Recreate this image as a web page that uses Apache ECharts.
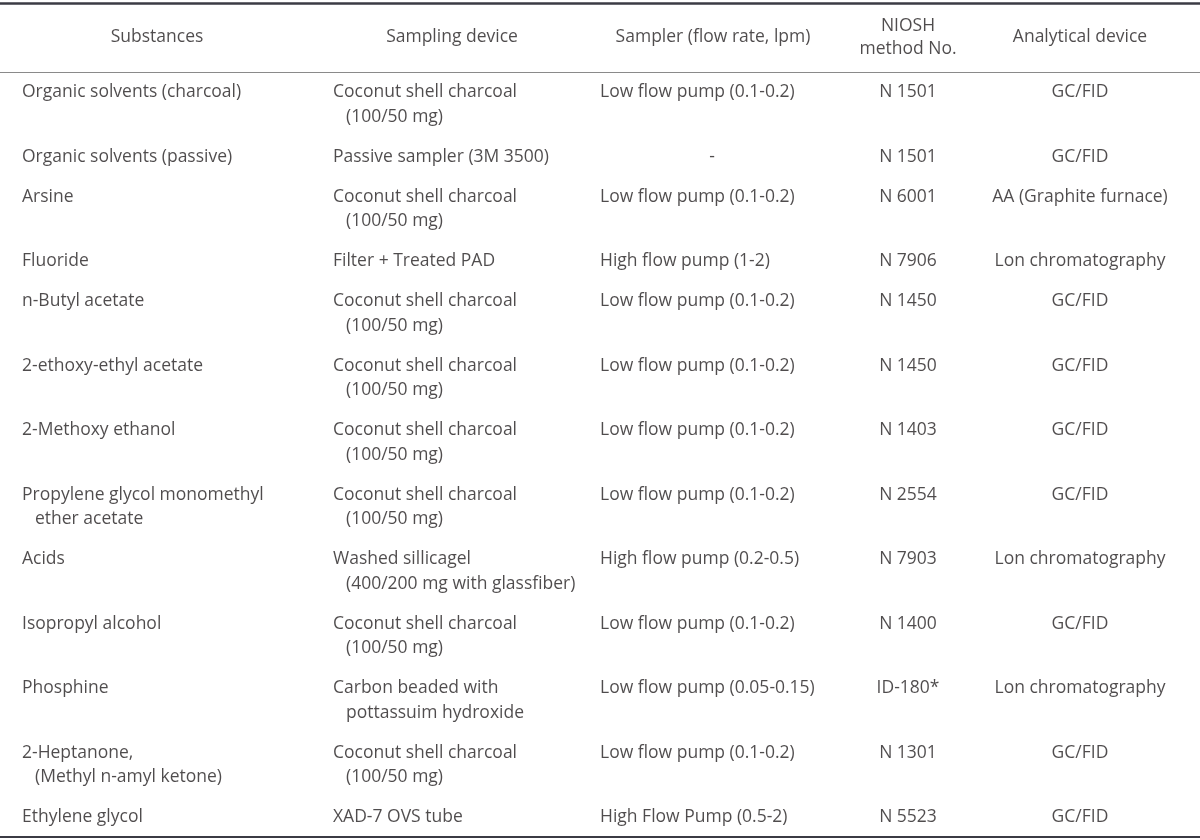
<!DOCTYPE html>
<html>
<head>
<meta charset="utf-8">
<script src="https://cdn.jsdelivr.net/npm/echarts@6/dist/echarts.min.js"></script>
<style>
html,body{margin:0;padding:0;background:#fff;}
#chart{width:1200px;height:840px;}
</style>
</head>
<body>
<div id="chart"></div>
<script>
// ---- table content ----
var headers = ["Substances", "Sampling device", "Sampler (flow rate, lpm)", "NIOSH\nmethod No.", "Analytical device"];
var substances = [
  "Organic solvents (charcoal)",
  "Organic solvents (passive)",
  "Arsine",
  "Fluoride",
  "n-Butyl acetate",
  "2-ethoxy-ethyl acetate",
  "2-Methoxy ethanol",
  "Propylene glycol monomethyl\nether acetate",
  "Acids",
  "Isopropyl alcohol",
  "Phosphine",
  "2-Heptanone,\n(Methyl n-amyl ketone)",
  "Ethylene glycol"
];
var samplingDevices = [
  "Coconut shell charcoal\n(100/50 mg)",
  "Passive sampler (3M 3500)",
  "Coconut shell charcoal\n(100/50 mg)",
  "Filter + Treated PAD",
  "Coconut shell charcoal\n(100/50 mg)",
  "Coconut shell charcoal\n(100/50 mg)",
  "Coconut shell charcoal\n(100/50 mg)",
  "Coconut shell charcoal\n(100/50 mg)",
  "Washed sillicagel\n(400/200 mg with glassfiber)",
  "Coconut shell charcoal\n(100/50 mg)",
  "Carbon beaded with\npottassuim hydroxide",
  "Coconut shell charcoal\n(100/50 mg)",
  "XAD-7 OVS tube"
];
var samplers = [
  "Low flow pump (0.1-0.2)",
  "-",
  "Low flow pump (0.1-0.2)",
  "High flow pump (1-2)",
  "Low flow pump (0.1-0.2)",
  "Low flow pump (0.1-0.2)",
  "Low flow pump (0.1-0.2)",
  "Low flow pump (0.1-0.2)",
  "High flow pump (0.2-0.5)",
  "Low flow pump (0.1-0.2)",
  "Low flow pump (0.05-0.15)",
  "Low flow pump (0.1-0.2)",
  "High Flow Pump (0.5-2)"
];
var nioshMethods = ["N 1501","N 1501","N 6001","N 7906","N 1450","N 1450","N 1403","N 2554","N 7903","N 1400","ID-180*","N 1301","N 5523"];
var analyticalDevices = [
  "GC/FID","GC/FID","AA (Graphite furnace)","Lon chromatography","GC/FID","GC/FID","GC/FID",
  "GC/FID","Lon chromatography","GC/FID","Lon chromatography","GC/FID","GC/FID"
];

// ---- layout (styles/positions, separate from content) ----
var FONT = "Open Sans";
var FS = 17.5;
var TEXT = "#231f20";
var colDefs = [
  {x: 22, align: "left", indent: 13, headerX: 157},
  {x: 333, align: "left", indent: 13, headerX: 452},
  {x: 600, align: "left", indent: 13, headerX: 713, centerX: 712},
  {x: 908, align: "center", indent: 0, headerX: 908},
  {x: 1080, align: "center", indent: 0, headerX: 1080}
];
var topLineY = 3, headerLineY = 72, bottomLineY = 837;
var firstRowY = 92.5, lineH = 24.5, rowPad = 40;

var columns = [substances, samplingDevices, samplers, nioshMethods, analyticalDevices];
var points = [];
// header cells
headers.forEach(function (h, c) {
  var lines = h.split("\n");
  var hy = lines.length === 1 ? 37.5 : 26;
  lines.forEach(function (t, i) {
    points.push({value: [colDefs[c].headerX, hy + i * 23], label: {formatter: t, align: "center"}});
  });
});
// body cells
var y = firstRowY;
for (var r = 0; r < substances.length; r++) {
  var nLines = 1;
  columns.forEach(function (col, c) {
    var lines = col[r].split("\n");
    nLines = Math.max(nLines, lines.length);
    lines.forEach(function (t, i) {
      var cd = colDefs[c];
      var x = cd.x + (i > 0 ? cd.indent : 0);
      var al = cd.align;
      if (t === "-" && cd.centerX) { x = cd.centerX; al = "center"; }
      points.push({value: [x, y + i * lineH], label: {formatter: t, align: al}});
    });
  });
  y += rowPad + (nLines - 1) * lineH;
}

var chart = echarts.init(document.getElementById("chart"), null, {renderer: "canvas"});
chart.setOption({
  backgroundColor: "#ffffff",
  animation: false,
  grid: {left: 0, right: 0, top: 0, bottom: 0},
  xAxis: {type: "value", min: 0, max: 1200, show: false},
  yAxis: {type: "value", min: 0, max: 840, inverse: true, show: false},
  series: [{
    type: "scatter",
    symbolSize: 0,
    silent: true,
    data: points,
    label: {
      show: true,
      position: "inside",
      verticalAlign: "middle",
      color: TEXT,
      fontFamily: FONT,
      fontSize: FS
    },
    markLine: {
      silent: true,
      symbol: "none",
      label: {show: false},
      data: [
        {yAxis: topLineY, lineStyle: {color: "#3b3b44", width: 2.5, type: "solid"}},
        {yAxis: headerLineY, lineStyle: {color: "#8a8a8a", width: 1, type: "solid"}},
        {yAxis: bottomLineY, lineStyle: {color: "#3b3b44", width: 2, type: "solid"}}
      ]
    }
  }]
});
</script>
</body>
</html>
